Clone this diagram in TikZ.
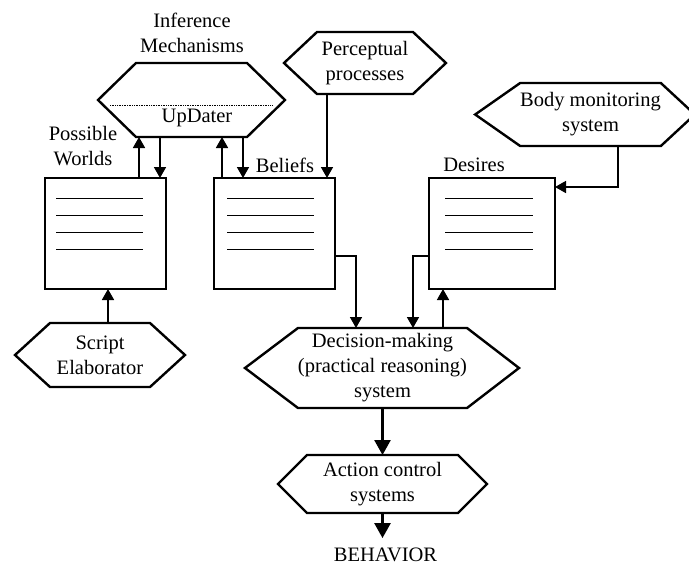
\documentclass[tikz,border=0pt]{standalone}
\usepackage{fontspec}
\setmainfont{Liberation Serif}
\usetikzlibrary{calc, arrows.meta}

\begin{document}
\begin{tikzpicture}
  [x=1pt, y=-1pt,
   every node/.style={font=\fontsize{20.5pt}{25pt}\selectfont, align=center,
     inner sep=0pt, outer sep=0pt},
   hexa/.style={rectangle},
   hexline/.style={line width=2.4pt, line join=miter},
   note/.style={draw, line width=2pt, minimum height=111pt},
   arr/.style={-{Triangle[width=12pt,length=11pt]}, line width=1.6pt},
   bigarr/.style={-{Triangle[width=16pt,length=15pt]}, line width=2.6pt}]
  \useasboundingbox (0,0) rectangle (689,566);
  % hexagons
  \node[hexa, minimum width=111pt, minimum height=74pt] (inf) at (191.5,100) {};
  \node[hexa, minimum width=96pt, minimum height=62pt] (perc) at (365,63) {Perceptual\\processes};
  \node[hexa, minimum width=128pt, minimum height=63pt] (body) at (590.5,114.5) {Body monitoring\\system};
  \node[hexa, minimum width=145pt, minimum height=80pt] (dec) at (382.5,368) {Decision-making\\(practical reasoning)\\system};
  \node[hexa, minimum width=151pt, minimum height=58pt] (act) at (382.5,484) {Action control\\systems};
  \node[hexa, minimum width=100pt, minimum height=64pt] (scr) at (100,355) {Script\\Elaborator};
  \foreach \n/\l/\r in {inf/38/38, perc/33/33, body/45/34, dec/53/52, act/29/29, scr/35/35} {
      \draw[hexline] (\n.north west) -- (\n.north east) -- ($(\n.east)+(\r,0)$)
        -- (\n.south east) -- (\n.south west) -- ($(\n.west)+(-\l,0)$) -- cycle;
  }
  \draw[densely dotted, line width=0.7pt] (110,105) -- (272,105);
  \node (upd) at (197,118) {UpDater};
  \node (infl) at (192,33) {Inference\\Mechanisms};
  % stores
  \node[note, minimum width=121pt] (pw) at (105.5,233.5) {};
  \node[note, minimum width=121pt] (bel) at (274.5,233.5) {};
  \node[note, minimum width=126pt] (des) at (492,233.5) {};
  \foreach \b/\l/\r in {pw/11/98, bel/13/100, des/16/104} {
    \foreach \y in {20,37,54,71} {
        \draw[line width=1pt] ($(\b.north west)+(\l,\y)$) -- ($(\b.north west)+(\r,\y)$);
    }
  }
  \node (pwl) at (83,146) {Possible\\Worlds};
  \node (bell) at (285,165) {Beliefs};
  \node (desl) at (474,165) {Desires};
  \node (beh) at (385.5,555) {BEHAVIOR};
  % connector ends
  \coordinate (pwup) at ($(pw.north)+(33.5,0)$);
  \coordinate (pwdown) at ($(pw.north)+(54.5,0)$);
  \coordinate (belup) at ($(bel.north)+(-52.5,0)$);
  \coordinate (beldown) at ($(bel.north)+(-31.5,0)$);
  \coordinate (percin) at ($(bel.north)+(52.5,0)$);
  \coordinate (decup) at ($(dec.north)+(60.5,0)$);
  \coordinate (scrup) at ($(scr.north)+(8,0)$);
  % edges
  \draw[arr] (pwup) -- (pwup |- inf.south);
  \draw[arr] (pwdown |- inf.south) -- (pwdown);
  \draw[arr] (belup) -- (belup |- inf.south);
  \draw[arr] (beldown |- inf.south) -- (beldown);
  \draw[arr] (percin |- perc.south) -- (percin);
  \draw[arr] ($(body.south)+(27.5,0)$) |- ($(des.north east)+(0,9)$);
  \draw[arr] ($(bel.east)+(0,22.5)$) -| ($(dec.north)+(-26.5,0)$);
  \draw[arr] ($(des.west)+(0,22.5)$) -| ($(dec.north)+(30.5,0)$);
  \draw[arr] (decup) -- (decup |- des.south);
  \draw[arr] (scrup) -- (scrup |- pw.south);
  \draw[bigarr] (dec.south) -- (act.north);
  \draw[bigarr, shorten >=10pt] (act.south) -- (act.south |- beh.north);
\end{tikzpicture}
\end{document}
